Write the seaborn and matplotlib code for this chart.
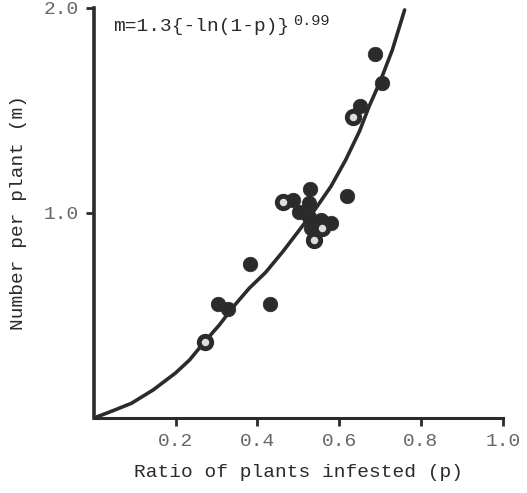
import pandas as pd
import matplotlib
matplotlib.use("Agg")
import matplotlib.pyplot as plt
import seaborn as sns

p_obs = [0.688, 0.704, 0.651, 0.634, 0.528, 0.618, 0.486, 0.463, 0.527, 0.502,
         0.525, 0.555, 0.580, 0.559, 0.531, 0.539, 0.382, 0.303, 0.328, 0.431, 0.271]
m_obs = [1.776, 1.636, 1.522, 1.467, 1.117, 1.084, 1.063, 1.052, 1.050, 1.003,
         0.982, 0.966, 0.953, 0.925, 0.925, 0.868, 0.750, 0.555, 0.530, 0.555, 0.372]
# open (ringed) symbols
is_open = [0, 0, 0, 1, 0, 0, 0, 1, 0, 0,
           0, 0, 0, 1, 0, 1, 0, 0, 0, 0, 1]

# fitted curve as drawn
p_fit = [0.0, 0.047, 0.092, 0.145, 0.20, 0.234, 0.27, 0.307, 0.34, 0.380, 0.42,
         0.462, 0.50, 0.543, 0.58, 0.616, 0.65, 0.673, 0.70, 0.730, 0.76]
m_fit = [0.0, 0.036, 0.072, 0.137, 0.22, 0.283, 0.37, 0.454, 0.54, 0.633, 0.71,
         0.811, 0.91, 1.023, 1.13, 1.259, 1.40, 1.519, 1.64, 1.795, 1.99]

x_ticks = [0.2, 0.4, 0.6, 0.8, 1.0]
y_ticks = [1.0, 2.0]

sns.set_style("ticks")
plt.rcParams['font.family'] = ['Liberation Mono', 'DejaVu Sans Mono']

ink = "#2b2b2b"
txt = "#666666"

obs = pd.DataFrame({"p": p_obs, "m": m_obs, "open": is_open})
fit = pd.DataFrame({"p": p_fit, "m": m_fit})

fig = plt.figure(figsize=(5.27, 4.93), dpi=100)
ax = fig.add_axes([0.178, 0.152, 0.776, 0.832])

sns.lineplot(data=fit, x="p", y="m", color=ink, lw=2.6, ax=ax, sort=False)
sns.scatterplot(data=obs[obs["open"] == 0], x="p", y="m", color=ink, s=110,
                edgecolor=ink, linewidth=0.5, ax=ax, zorder=3)
sns.scatterplot(data=obs[obs["open"] == 1], x="p", y="m", color="#dddddd", s=80,
                edgecolor=ink, linewidth=3.5, ax=ax, zorder=3)

ax.set_xlim(0, 1.0)
ax.set_ylim(0, 2.0)
ax.set_xticks(x_ticks)
ax.set_xticklabels([f"{v:.1f}" for v in x_ticks])
ax.set_yticks(y_ticks)
ax.set_yticklabels([f"{v:.1f}" for v in y_ticks])

for s in ["top", "right"]:
    ax.spines[s].set_visible(False)
ax.spines["left"].set_linewidth(2.6)
ax.spines["bottom"].set_linewidth(2.2)
ax.spines["left"].set_color(ink)
ax.spines["bottom"].set_color(ink)
ax.tick_params(axis="both", direction="out", length=6, width=2, color=ink,
               labelsize=14, labelcolor=txt, pad=5)

ax.set_xlabel("Ratio of plants infested (p)", fontsize=14, color=ink, labelpad=10)
ax.set_ylabel("Number per plant (m)", fontsize=14, color=ink, labelpad=12)

ax.text(0.047, 0.955, "m=1.3{-ln(1-p)}", transform=ax.transAxes, fontsize=14,
        color=ink, va="center", ha="left")
ax.text(0.487, 0.968, "0.99", transform=ax.transAxes, fontsize=11,
        color=ink, va="center", ha="left")

fig.savefig("out.png", dpi=100)
